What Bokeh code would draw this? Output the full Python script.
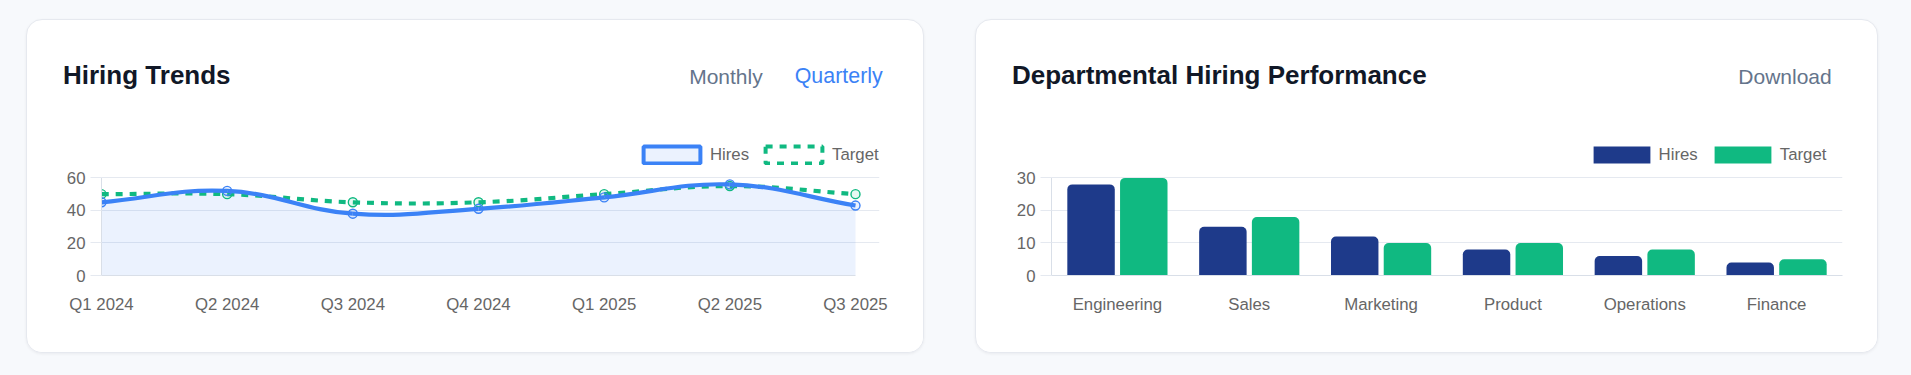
import math
import numpy as np
from bokeh.plotting import figure
from bokeh.models import (ColumnDataSource, FixedTicker, Legend, LegendItem, Div,
                          FactorRange, Range1d, Row, Column)
from bokeh.transform import dodge
from bokeh.embed import file_html
from bokeh.resources import INLINE

# ---------------- data ----------------
quarters = ["Q1 2024", "Q2 2024", "Q3 2024", "Q4 2024", "Q1 2025", "Q2 2025", "Q3 2025"]
hires_trend = [45, 52, 38, 41, 48, 56, 43]
target_trend = [50, 50, 45, 45, 50, 55, 50]

departments = ["Engineering", "Sales", "Marketing", "Product", "Operations", "Finance"]
dept_hires = [28, 15, 12, 8, 6, 4]
dept_target = [30, 18, 10, 10, 8, 5]

trend_ticks = [0, 20, 40, 60]
dept_ticks = [0, 10, 20, 30]

# ---------------- style ----------------
FONT = "Liberation Sans"
PAGE_BG = "#f7f9fc"
BLUE = "#3b82f6"
GREEN = "#10b981"
NAVY = "#1e3a8a"
TICK_COLOR = "#666666"
GRID = "#e5e9f0"
AXIS = "#d9dfe8"
TICK_SIZE = "16.8px"
HEAD_H = 110          # html header strip height
CARD_H = 332
TOP_B = 10            # chart canvas top -> frame top (legend lives inside frame)
BOT_B = 77
FH = CARD_H - HEAD_H - TOP_B - BOT_B   # frame height in px
PLOT_PX = 97.6        # px from value 0 to top tick
# legend swatch: Bokeh insets area glyphs by 10% of the glyph box on every side
GW, GH = 71, 21
CARD_STYLE = {"border-radius": "16px", "border": "1px solid #e6e9ef",
              "box-shadow": "0 1px 3px rgba(15,23,42,0.06)", "overflow": "hidden",
              "background-color": "white"}


def spline_segments(xs, ys, kx, ky, t=0.4):
    """Chart.js-style cubic spline control points (tension t), computed in pixel space."""
    n = len(xs)
    px = np.asarray(xs, float) * kx
    py = np.asarray(ys, float) * ky
    prev_c, next_c = [], []
    for i in range(n):
        a, b = max(i - 1, 0), min(i + 1, n - 1)
        d01 = math.hypot(px[i] - px[a], py[i] - py[a])
        d12 = math.hypot(px[b] - px[i], py[b] - py[i])
        s = d01 + d12
        s01 = d01 / s if s else 0.0
        s12 = d12 / s if s else 0.0
        dx, dy = px[b] - px[a], py[b] - py[a]
        prev_c.append(((px[i] - t * s01 * dx) / kx, (py[i] - t * s01 * dy) / ky))
        next_c.append(((px[i] + t * s12 * dx) / kx, (py[i] + t * s12 * dy) / ky))
    return dict(
        x0=list(xs[:-1]), y0=list(ys[:-1]), x1=list(xs[1:]), y1=list(ys[1:]),
        cx0=[next_c[i][0] for i in range(n - 1)], cy0=[next_c[i][1] for i in range(n - 1)],
        cx1=[prev_c[i + 1][0] for i in range(n - 1)], cy1=[prev_c[i + 1][1] for i in range(n - 1)],
    )


def sample_segments(seg, m=40):
    tt = np.linspace(0, 1, m)
    X, Y = [], []
    for k in range(len(seg["x0"])):
        P = [(seg["x0"][k], seg["y0"][k]), (seg["cx0"][k], seg["cy0"][k]),
             (seg["cx1"][k], seg["cy1"][k]), (seg["x1"][k], seg["y1"][k])]
        for j, u in enumerate(tt):
            if k > 0 and j == 0:
                continue
            w = [(1 - u) ** 3, 3 * (1 - u) ** 2 * u, 3 * (1 - u) * u ** 2, u ** 3]
            X.append(sum(w[q] * P[q][0] for q in range(4)))
            Y.append(sum(w[q] * P[q][1] for q in range(4)))
    return X, Y


def style_axes(p, ytop):
    p.outline_line_color = None
    p.xgrid.visible = False
    p.ygrid.grid_line_color = GRID
    p.ygrid.grid_line_width = 1
    for ax in (p.xaxis[0], p.yaxis[0]):
        ax.major_label_text_font = FONT
        ax.major_label_text_font_size = TICK_SIZE
        ax.major_label_text_color = TICK_COLOR
        ax.minor_tick_line_color = None
        ax.axis_line_color = AXIS
    p.yaxis.bounds = (0, ytop)
    p.yaxis.major_tick_out = 11
    p.yaxis.major_tick_in = 0
    p.yaxis.major_tick_line_color = GRID
    p.yaxis.major_label_standoff = 5
    p.xaxis.major_tick_out = 0
    p.xaxis.major_tick_in = 0
    p.xaxis.major_tick_line_color = None
    p.xaxis.major_label_standoff = 19


def make_header(width, title, buttons):
    spans = [
        f'<span style="position:absolute;left:36px;top:42px;font-size:26px;line-height:26px;'
        f'font-weight:bold;color:#111827;white-space:nowrap">{title}</span>'
    ]
    for txt, right, col, fs in buttons:
        spans.append(
            f'<span style="position:absolute;right:{right}px;top:45.5px;font-size:{fs}px;'
            f'line-height:21px;color:{col};white-space:nowrap">{txt}</span>')
    html = (f'<div style="position:relative;width:{width}px;height:{HEAD_H}px;'
            f"font-family:'{FONT}',Arial,sans-serif;margin:0;padding:0\">" + "".join(spans) + "</div>")
    return Div(text=html, width=width, height=HEAD_H, margin=0)


def make_legend(items, x, y, standoff, spacing):
    return Legend(items=items, orientation="horizontal", location=(x, y),
                  glyph_width=GW, glyph_height=GH, label_height=GH,
                  label_standoff=standoff, spacing=spacing, padding=0, margin=0,
                  border_line_alpha=0, background_fill_alpha=0,
                  label_text_font=FONT, label_text_font_size=TICK_SIZE,
                  label_text_color=TICK_COLOR)


# ---------------- card 1: line chart ----------------
W1 = 896
h1 = make_header(W1, "Hiring Trends", [("Monthly", 160.3, "#64748b", 21),
                                       ("Quarterly", 40.3, BLUE, 21.4)])

idx = list(range(len(quarters)))
n_last = len(quarters) - 1
FW1 = 754                     # px between first and last quarter
EXT1 = 24                     # extra frame room on the right for the legend text
kx = FW1 / n_last
ky = PLOT_PX / 60
p1 = figure(width=W1, height=CARD_H - HEAD_H, output_backend="svg", toolbar_location=None,
            x_range=Range1d(0, n_last * (FW1 + EXT1) / FW1), y_range=Range1d(0, FH / ky),
            min_border_left=74, min_border_right=68 - EXT1, min_border_top=TOP_B,
            min_border_bottom=BOT_B, background_fill_color="white", border_fill_color="white")
style_axes(p1, trend_ticks[-1])
p1.xaxis.bounds = (0, n_last)
p1.xaxis.ticker = FixedTicker(ticks=idx)
p1.xaxis.major_label_overrides = {i: q for i, q in enumerate(quarters)}
p1.yaxis.ticker = FixedTicker(ticks=trend_ticks)

seg_h = spline_segments(idx, hires_trend, kx, ky)
seg_t = spline_segments(idx, target_trend, kx, ky)
fx, fy = sample_segments(seg_h)

p1.varea(x=fx, y1=[0] * len(fx), y2=fy, fill_color=BLUE, fill_alpha=0.1)
p1.bezier(source=ColumnDataSource(seg_t), x0="x0", y0="y0", x1="x1", y1="y1",
          cx0="cx0", cy0="cy0", cx1="cx1", cy1="cy1",
          line_color=GREEN, line_width=4.2, line_dash="7 7")
p1.scatter(x=idx, y=target_trend, marker="circle", size=9, line_color=GREEN,
           line_width=1.4, fill_color=GREEN, fill_alpha=0.1)
p1.bezier(source=ColumnDataSource(seg_h), x0="x0", y0="y0", x1="x1", y1="y1",
          cx0="cx0", cy0="cy0", cx1="cx1", cy1="cy1",
          line_color=BLUE, line_width=4.2)
p1.scatter(x=idx, y=hires_trend, marker="circle", size=9, line_color=BLUE,
           line_width=1.4, fill_color=BLUE, fill_alpha=0.1)

# box-style legend swatches (nothing drawn in the plot area)
nan = float("nan")
sw_h = p1.quad(left=[nan], right=[nan], top=[nan], bottom=[nan], fill_color=BLUE,
               fill_alpha=0.1, line_color=BLUE, line_width=4)
sw_t = p1.quad(left=[nan], right=[nan], top=[nan], bottom=[nan], fill_color="white",
               fill_alpha=0, line_color=GREEN, line_width=4, line_dash="7 7")
p1.add_layout(make_legend([LegendItem(label="Hires", renderers=[sw_h]),
                           LegendItem(label="Target", renderers=[sw_t])],
                          534.9, 110, 3, 9))

card1 = Column(children=[h1, p1], spacing=0, styles=CARD_STYLE, margin=(19, 0, 0, 26))

# ---------------- card 2: bar chart ----------------
W2 = 901
h2 = make_header(W2, "Departmental Hiring Performance", [("Download", 45.3, "#64748b", 21)])

ky2 = PLOT_PX / 30
p2 = figure(width=W2, height=CARD_H - HEAD_H, output_backend="svg", toolbar_location=None,
            x_range=FactorRange(factors=departments, range_padding=0),
            y_range=Range1d(0, FH / ky2),
            min_border_left=75, min_border_right=35, min_border_top=TOP_B,
            min_border_bottom=BOT_B, background_fill_color="white", border_fill_color="white")
style_axes(p2, dept_ticks[-1])
p2.yaxis.ticker = FixedTicker(ticks=dept_ticks)

src = ColumnDataSource(dict(dept=departments, hires=dept_hires, target=dept_target))
rb1 = p2.vbar(x=dodge("dept", -0.2, range=p2.x_range), top="hires", width=0.36, source=src,
              fill_color=NAVY, line_color=None, border_radius=(5, 5, 0, 0))
rb2 = p2.vbar(x=dodge("dept", 0.2, range=p2.x_range), top="target", width=0.36, source=src,
              fill_color=GREEN, line_color=None, border_radius=(5, 5, 0, 0))
sb_h = p2.quad(left=[nan], right=[nan], top=[nan], bottom=[nan], fill_color=NAVY, line_color=None)
sb_t = p2.quad(left=[nan], right=[nan], top=[nan], bottom=[nan], fill_color=GREEN, line_color=None)
p2.add_layout(make_legend([LegendItem(label="Hires", renderers=[sb_h]),
                           LegendItem(label="Target", renderers=[sb_t])],
                          534.6, 110, 2, 9))

card2 = Column(children=[h2, p2], spacing=0, styles=CARD_STYLE, margin=(19, 0, 0, 51))

lay = Row(children=[card1, card2], width=1911, height=375,
          styles={"background-color": PAGE_BG})

open("out.html", "w").write(file_html(lay, INLINE))
